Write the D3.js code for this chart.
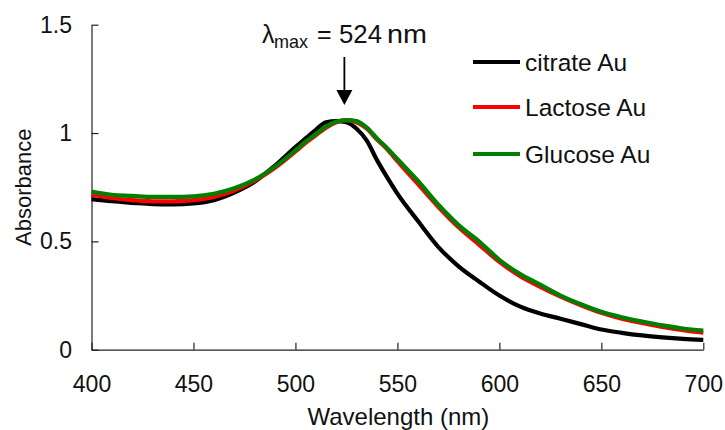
<!DOCTYPE html>
<html>
<head>
<meta charset="utf-8">
<script src="https://cdn.jsdelivr.net/npm/d3@7"></script>
<style>
  html, body { margin: 0; padding: 0; background: #fff; }
  svg { display: block; font-family: Arial, "Liberation Sans", sans-serif; }
</style>
</head>
<body>
<svg id="chart" width="725" height="430"></svg>
<script>
// UV-Vis absorbance spectra of gold nanoparticles
const wavelengths = [400, 410, 420, 430, 440, 450, 460, 470, 480, 490, 500, 505, 510, 515, 520, 525, 530, 535, 540, 545, 550, 560, 570, 580, 590, 600, 610, 620, 630, 640, 650, 660, 670, 680, 690, 700];
const citrateAu = [0.695, 0.685, 0.678, 0.672, 0.671, 0.675, 0.69, 0.725, 0.775, 0.85, 0.935, 0.975, 1.015, 1.05, 1.055, 1.05, 1.02, 0.965, 0.875, 0.795, 0.72, 0.595, 0.475, 0.385, 0.315, 0.25, 0.2, 0.167, 0.143, 0.118, 0.093, 0.078, 0.066, 0.057, 0.05, 0.045];
const lactoseAu = [0.715, 0.7, 0.69, 0.685, 0.685, 0.69, 0.705, 0.735, 0.78, 0.84, 0.915, 0.955, 0.99, 1.025, 1.05, 1.06, 1.05, 1.02, 0.97, 0.925, 0.87, 0.765, 0.66, 0.565, 0.485, 0.405, 0.34, 0.29, 0.245, 0.205, 0.17, 0.143, 0.123, 0.105, 0.09, 0.078];
const glucoseAu = [0.73, 0.715, 0.71, 0.705, 0.705, 0.708, 0.72, 0.745, 0.785, 0.845, 0.92, 0.96, 0.995, 1.03, 1.052, 1.06, 1.055, 1.025, 0.975, 0.93, 0.88, 0.78, 0.67, 0.575, 0.5, 0.415, 0.35, 0.3, 0.25, 0.21, 0.175, 0.15, 0.13, 0.112, 0.098, 0.088];

const seriesNames = ["citrate Au", "Lactose Au", "Glucose Au"];
const seriesColors = ["#000000", "#ff0000", "#008000"];
const seriesValues = [citrateAu, lactoseAu, glucoseAu];

const xTicks = [400, 450, 500, 550, 600, 650, 700];
const yTicks = [0, 0.5, 1, 1.5];
const peakWavelength = 524;

const svg = d3.select("#chart");

const x = d3.scaleLinear().domain([400, 700]).range([91.5, 703.3]);
const y = d3.scaleLinear().domain([0, 1.5]).range([349.7, 24.7]);

// axes with inward ticks
const xAxis = svg.append("g")
  .attr("transform", `translate(0,${y(0)})`)
  .call(d3.axisBottom(x).tickValues(xTicks).tickFormat(d3.format("d"))
    .tickSizeInner(-7).tickSizeOuter(0).tickPadding(26));
const yAxis = svg.append("g")
  .attr("transform", `translate(${x(400)},0)`)
  .call(d3.axisLeft(y).tickValues(yTicks).tickFormat(d => String(d))
    .tickSizeInner(-7).tickSizeOuter(0).tickPadding(19.5));

[xAxis, yAxis].forEach(g => {
  g.selectAll("path.domain").attr("stroke", "#222").attr("stroke-width", 1.2);
  g.selectAll(".tick line").attr("stroke", "#222").attr("stroke-width", 1.2);
  g.selectAll(".tick text").attr("font-size", 23).attr("fill", "#111")
    .attr("font-family", "Arial, 'Liberation Sans', sans-serif");
});

// axis titles
svg.append("text")
  .attr("x", (x(400) + x(700)) / 2 + 1)
  .attr("y", 425)
  .attr("text-anchor", "middle")
  .attr("font-size", 24)
  .attr("fill", "#111")
  .text("Wavelength (nm)");

svg.append("text")
  .attr("transform", `translate(31,${(y(0) + y(1.5)) / 2}) rotate(-90)`)
  .attr("text-anchor", "middle")
  .attr("font-size", 22)
  .attr("fill", "#111")
  .text("Absorbance");

// spectra
const line = d3.line()
  .x((d, i) => x(wavelengths[i]))
  .y(d => y(d))
  .curve(d3.curveMonotoneX);

svg.append("g").selectAll("path")
  .data(seriesValues)
  .join("path")
  .attr("d", d => line(d))
  .attr("fill", "none")
  .attr("stroke", (d, i) => seriesColors[i])
  .attr("stroke-width", 4.2)
  .attr("stroke-linejoin", "round");

// legend
const legend = svg.append("g");
const legendY = [62, 107, 154];
seriesNames.forEach((name, i) => {
  legend.append("line")
    .attr("x1", 473).attr("x2", 520)
    .attr("y1", legendY[i]).attr("y2", legendY[i])
    .attr("stroke", seriesColors[i])
    .attr("stroke-width", 4);
  legend.append("text")
    .attr("x", 525)
    .attr("y", legendY[i] + 8.5)
    .attr("font-size", 24.5)
    .attr("fill", "#111")
    .text(name);
});

// peak annotation: λmax = 524 nm
const ax = x(peakWavelength);
const label = svg.append("g").attr("fill", "#111");
label.append("text").attr("x", 262).attr("y", 43).attr("font-size", 25).text("λ");
label.append("text").attr("x", 274).attr("y", 47.5).attr("font-size", 19)
  .attr("textLength", 34).attr("lengthAdjust", "spacingAndGlyphs").text("max");
label.append("text").attr("x", 317).attr("y", 43).attr("font-size", 25).text("=");
label.append("text").attr("x", 339).attr("y", 43).attr("font-size", 25)
  .attr("textLength", 43).attr("lengthAdjust", "spacingAndGlyphs").text(String(peakWavelength));
label.append("text").attr("x", 387).attr("y", 43).attr("font-size", 25)
  .attr("textLength", 40).attr("lengthAdjust", "spacingAndGlyphs").text("nm");

svg.append("line")
  .attr("x1", ax).attr("x2", ax)
  .attr("y1", 57).attr("y2", 91)
  .attr("stroke", "#000").attr("stroke-width", 1.8);
svg.append("path")
  .attr("d", `M${ax - 8},90 L${ax + 8},90 L${ax},105 Z`)
  .attr("fill", "#000");
</script>
</body>
</html>
